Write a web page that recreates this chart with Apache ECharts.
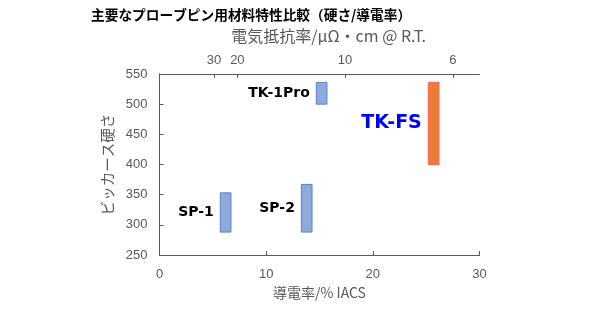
<!DOCTYPE html>
<html><head><meta charset="utf-8">
<script src="https://cdn.jsdelivr.net/npm/echarts@6/dist/echarts.min.js"></script>
<style>html,body{margin:0;padding:0;background:#fff}#c{width:590px;height:331px}</style>
</head><body><div id="c"></div>
<script>
// Data
const names = ['SP-1', 'SP-2', 'TK-1Pro', 'TK-FS'];
const conductivity = [6.2, 13.8, 15.2, 25.7];     // %IACS (bar centre)
const hardnessLow = [288, 288, 500, 400];
const hardnessHigh = [353, 367, 536, 536];
const highlighted = [false, false, false, true];
const topTickPositions = [5.1, 7.3, 17.4, 27.5]; // position on %IACS scale
const topTickLabels = ['30', '20', '10', '6'];    // resistivity µΩ·cm
const barWidthUnits = 1.0;

const FONT = '"Noto Sans CJK JP", "Noto Sans", sans-serif';
const NUMFONT = '"Liberation Sans", Arial, sans-serif';
const LABELFONT = '"DejaVu Sans", Verdana, sans-serif';
const data = names.map((n, i) => [conductivity[i], hardnessLow[i], hardnessHigh[i], i]);

const chart = echarts.init(document.getElementById('c'));
chart.setOption({
  animation: false,
  title: {
    text: '主要なプローブピン用材料特性比較（硬さ/導電率）',
    left: 86, top: 3,
    textStyle: { fontFamily: FONT, fontSize: 13.7, fontWeight: 'bold', color: '#000' }
  },
  grid: { left: 159.5, right: 110.5, top: 74, bottom: 76 },
  xAxis: [{
    type: 'value', position: 'bottom', min: 0, max: 30, interval: 10,
    name: '導電率/% IACS', nameLocation: 'middle', nameGap: 31,
    nameTextStyle: { fontFamily: FONT, fontSize: 14, color: '#595959' },
    axisLine: { show: true, lineStyle: { color: '#595959', width: 1 } },
    axisTick: { show: true, inside: true, length: 4, lineStyle: { color: '#595959' } },
    axisLabel: { fontFamily: NUMFONT, fontSize: 13, color: '#595959', margin: 13 },
    splitLine: { show: false }
  }, {
    type: 'value', position: 'top', min: 0, max: 30,
    name: '電気抵抗率/μΩ・cm @ R.T.', nameLocation: 'middle', nameGap: 30,
    nameTextStyle: { fontFamily: FONT, fontSize: 16, color: '#595959', padding: [0, 0, 0, 18] },
    axisLine: { show: true, lineStyle: { color: '#595959', width: 1 } },
    axisTick: { show: true, inside: true, length: 4, lineStyle: { color: '#595959' }, customValues: topTickPositions },
    axisLabel: {
      fontFamily: NUMFONT, fontSize: 13, color: '#595959', margin: 7,
      customValues: topTickPositions,
      formatter: v => { const i = topTickPositions.indexOf(v); return i >= 0 ? topTickLabels[i] : ''; }
    },
    splitLine: { show: false }
  }],
  yAxis: [{
    type: 'value', min: 250, max: 550, interval: 50,
    name: 'ビッカース硬さ', nameLocation: 'middle', nameGap: 38, nameRotate: 90,
    nameTextStyle: { fontFamily: FONT, fontSize: 14.5, color: '#595959' },
    axisLine: { show: true, lineStyle: { color: '#595959', width: 1 } },
    axisTick: { show: true, inside: true, length: 4, lineStyle: { color: '#595959' } },
    axisLabel: { fontFamily: NUMFONT, fontSize: 13, color: '#595959', margin: 12 },
    splitLine: { show: false }
  }, {
    type: 'value', position: 'right', min: 250, max: 550, interval: 50,
    axisLine: { show: true, lineStyle: { color: '#595959', width: 1 } },
    axisTick: { show: false }, axisLabel: { show: false }, splitLine: { show: false }
  }],
  series: [{
    type: 'custom',
    xAxisIndex: 0, yAxisIndex: 0,
    data: data,
    renderItem: (params, api) => {
      const x = api.value(0), lo = api.value(1), hi = api.value(2), idx = api.value(3);
      const p1 = api.coord([x - barWidthUnits / 2, hi]);
      const p2 = api.coord([x + barWidthUnits / 2, lo]);
      const hl = highlighted[idx];
      return {
        type: 'rect',
        shape: { x: p1[0], y: p1[1], width: p2[0] - p1[0], height: p2[1] - p1[1] },
        style: {
          fill: hl ? '#ED7D31' : '#8EA9DB',
          stroke: hl ? '#FF5F5F' : '#5B82C9',
          lineWidth: 1
        },
        textContent: {
          style: {
            text: names[idx],
            fontFamily: LABELFONT,
            fontWeight: 'bold',
            fontSize: hl ? 19 : 14,
            fill: hl ? '#0000FF' : '#000'
          }
        },
        textConfig: { position: 'left', distance: 6 }
      };
    }
  }]
});
</script></body></html>
